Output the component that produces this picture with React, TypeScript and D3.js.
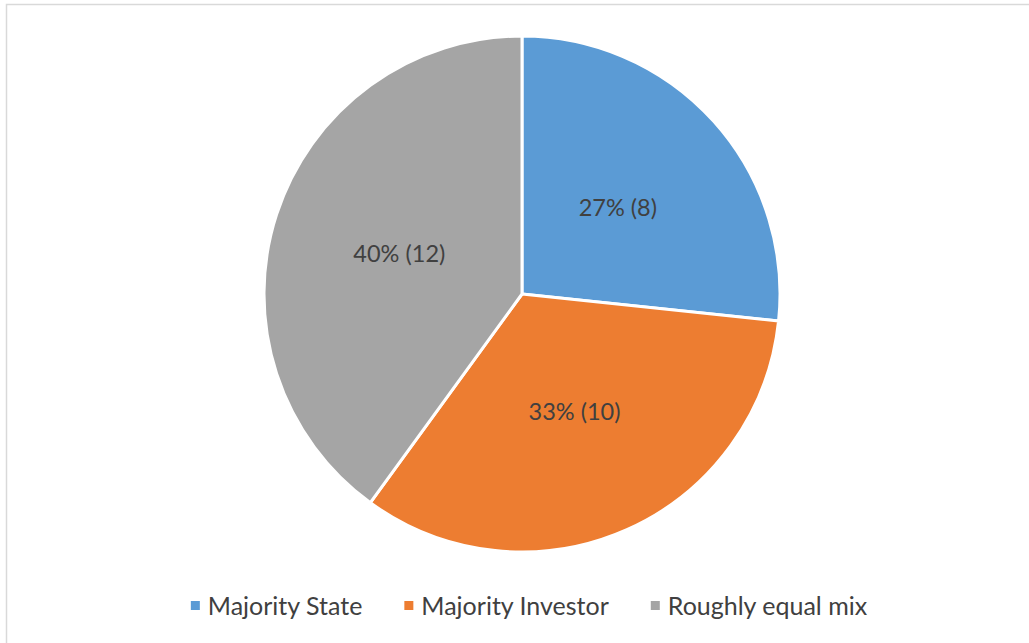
import { useEffect, useRef } from "react"
import * as d3 from "d3"

const categories = ["Majority State", "Majority Investor", "Roughly equal mix"]
const counts = [8, 10, 12]
const percents = ["27%", "33%", "40%"]
const colors = ["#5b9bd5", "#ed7d31", "#a5a5a5"]

export default function App() {
  const ref = useRef<SVGSVGElement>(null)

  useEffect(() => {
    const svg = d3.select(ref.current)
    svg.selectAll("*").remove()

    const width = 1029
    const height = 643
    const cx = 522
    const cy = 294
    const radius = 258

    // chart frame
    svg.append("rect")
      .attr("x", 6.5)
      .attr("y", 4.5)
      .attr("width", width)
      .attr("height", height)
      .attr("fill", "#fff")
      .attr("stroke", "#d9d9d9")
      .attr("stroke-width", 1.5)

    const data = categories.map((c, i) => ({ name: c, value: counts[i], pct: percents[i], color: colors[i] }))

    const pie = d3.pie<any>().sort(null).value(d => d.value)
    const arcs = pie(data)

    const arc = d3.arc<any>().innerRadius(0).outerRadius(radius)
    const labelArc = d3.arc<any>().innerRadius(radius * 0.5).outerRadius(radius * 0.5)

    const g = svg.append("g").attr("transform", `translate(${cx},${cy})`)

    g.selectAll("path")
      .data(arcs)
      .join("path")
      .attr("d", arc)
      .attr("fill", d => d.data.color)
      .attr("stroke", "#fff")
      .attr("stroke-width", 3)
      .attr("stroke-linejoin", "round")

    g.selectAll("text")
      .data(arcs)
      .join("text")
      .attr("transform", d => `translate(${labelArc.centroid(d)})`)
      .attr("text-anchor", "middle")
      .attr("dy", "0.35em")
      .style("font-family", "Lato, 'Open Sans', sans-serif")
      .style("font-size", "23.5px")
      .style("fill", "#404040")
      .text(d => `${d.data.pct} (${d.data.value})`)

    // legend, centred under the pie
    const legend = svg.append("g").attr("transform", `translate(0, 606)`)
    const items = legend.selectAll("g")
      .data(data)
      .join("g")

    items.append("rect")
      .attr("x", 0)
      .attr("y", -5)
      .attr("width", 9)
      .attr("height", 9)
      .attr("fill", d => d.color)

    items.append("text")
      .attr("x", 17)
      .attr("dy", "0.35em")
      .style("font-family", "Lato, 'Open Sans', sans-serif")
      .style("font-size", "25px")
      .style("fill", "#404040")
      .text(d => d.name)

    const widths: number[] = []
    items.each(function () {
      const t = d3.select(this).select("text").node() as SVGTextElement
      widths.push(17 + t.getComputedTextLength())
    })
    const gap = 42
    const total = d3.sum(widths) + gap * (widths.length - 1)
    let x = 529 - total / 2
    items.attr("transform", (_, i) => {
      const tx = x
      x += widths[i] + gap
      return `translate(${tx},0)`
    })
  }, [])

  return (
    <svg
      ref={ref}
      width={1029}
      height={643}
      style={{ position: "absolute", left: 0, top: 0, background: "#fff" }}
    />
  )
}
